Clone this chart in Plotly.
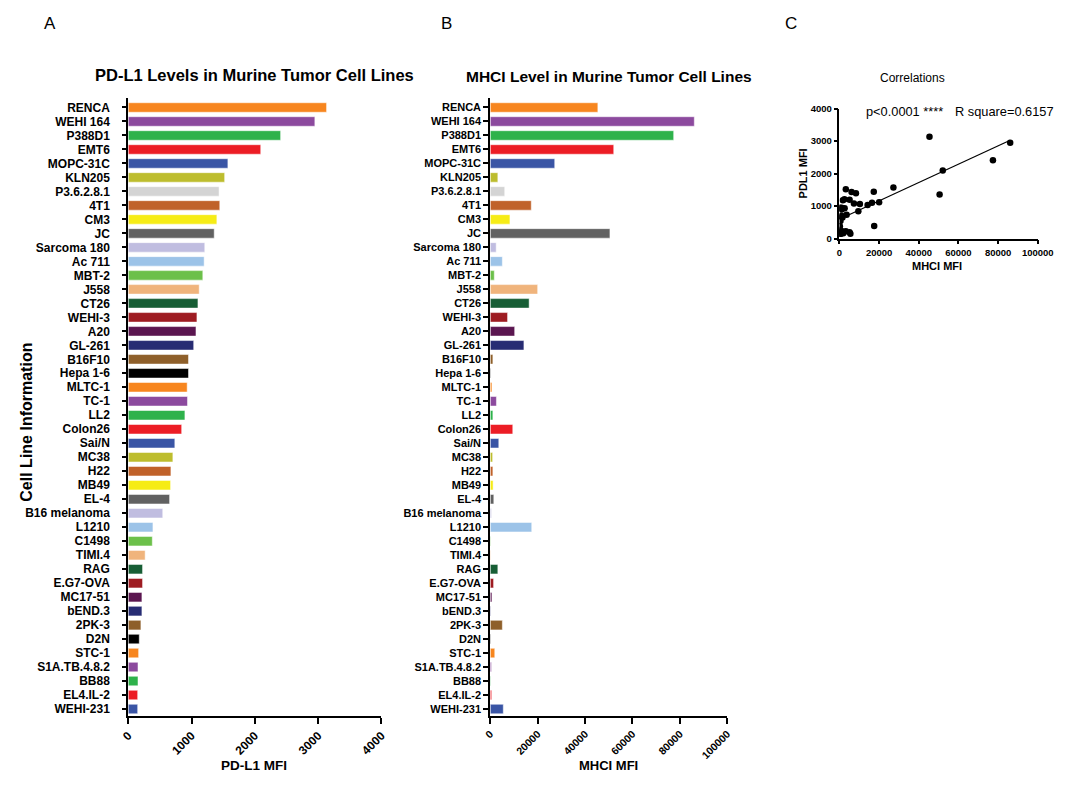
import numpy as np
import plotly.graph_objects as go

W, H = 1073, 785

cell_lines = ["RENCA", "WEHI 164", "P388D1", "EMT6", "MOPC-31C", "KLN205", "P3.6.2.8.1", "4T1", "CM3", "JC",
              "Sarcoma 180", "Ac 711", "MBT-2", "J558", "CT26", "WEHI-3", "A20", "GL-261", "B16F10", "Hepa 1-6",
              "MLTC-1", "TC-1", "LL2", "Colon26", "Sai/N", "MC38", "H22", "MB49", "EL-4", "B16 melanoma",
              "L1210", "C1498", "TIMI.4", "RAG", "E.G7-OVA", "MC17-51", "bEND.3", "2PK-3", "D2N", "STC-1",
              "S1A.TB.4.8.2", "BB88", "EL4.IL-2", "WEHI-231"]

pdl1_mfi = [3133, 2948, 2407, 2093, 1574, 1523, 1435, 1446, 1400, 1358,
            1209, 1199, 1178, 1121, 1101, 1085, 1070, 1034, 952, 952,
            931, 936, 895, 844, 736, 705, 674, 669, 653, 545,
            390, 380, 267, 226, 226, 216, 216, 200, 174, 164,
            154, 154, 149, 149]

mhci_mfi = [45400, 86100, 77400, 52100, 27200, 3200, 6100, 17300, 8300, 50500,
            2500, 5100, 1700, 20000, 16400, 7300, 10300, 14200, 1100, 200,
            700, 2600, 1100, 9500, 3600, 1000, 1100, 1200, 1500, 500,
            17500, 200, 200, 3200, 1400, 700, 200, 5100, 200, 1900,
            500, 200, 600, 5500]

pdl1_ticks = [0, 1000, 2000, 3000, 4000]
mhci_ticks = [0, 20000, 40000, 60000, 80000, 100000]
corr_y_ticks = [0, 1000, 2000, 3000, 4000]

palette = ["#F7861F", "#8C4A9E", "#2EB24B", "#EC1D25", "#3A55A5", "#BDBD2E", "#D4D4D4", "#C0622A",
           "#F6EC16", "#616161", "#C0BDE0", "#9CC3E8", "#6CC04A", "#F0B47C", "#175E35", "#9E1C22",
           "#5B1650", "#272C73", "#8E5F2A", "#000000"]
palette2 = ["#F7861F", "#8C4A9E", "#2EB24B", "#EC1D25", "#3A55A5", "#BDBD2E", "#C0622A",
            "#F6EC16", "#616161", "#C0BDE0", "#9CC3E8", "#6CC04A", "#F0B47C", "#175E35", "#9E1C22",
            "#5B1650", "#272C73", "#8E5F2A", "#000000"]
colors = palette + palette2 + palette2[:len(cell_lines) - len(palette) - len(palette2)]

FONT = "Arial, Liberation Sans, sans-serif"

def px_x(p):
    return p / W

def px_y(p):
    return 1 - p / H

fig = go.Figure()

fig.add_trace(go.Bar(x=pdl1_mfi, y=cell_lines, orientation="h", marker=dict(color=colors, line=dict(color="white", width=0.5)),
                     width=0.68, xaxis="x", yaxis="y", showlegend=False))
fig.add_trace(go.Bar(x=mhci_mfi, y=cell_lines, orientation="h", marker=dict(color=colors, line=dict(color="white", width=0.5)),
                     width=0.68, xaxis="x2", yaxis="y2", showlegend=False))

fig.add_trace(go.Scatter(x=mhci_mfi, y=pdl1_mfi, mode="markers", marker=dict(color="black", size=6.5),
                         xaxis="x3", yaxis="y3", showlegend=False))
slope, intercept = np.polyfit(mhci_mfi, pdl1_mfi, 1)
xl = np.array([min(mhci_mfi), max(mhci_mfi)])
fig.add_trace(go.Scatter(x=xl, y=slope * xl + intercept, mode="lines", line=dict(color="black", width=1.2),
                         xaxis="x3", yaxis="y3", showlegend=False))

ydom = [px_y(720), px_y(93)]
cat_range = [len(cell_lines) - 1 + 0.49, -0.70]

ax_common = dict(showgrid=False, zeroline=False, showline=True, linecolor="black", ticks="outside",
                 tickcolor="black")

fig.update_layout(
    width=W, height=H, margin=dict(l=0, r=0, t=0, b=0),
    paper_bgcolor="white", plot_bgcolor="white",
    font=dict(family=FONT, color="black"),
    xaxis=dict(domain=[px_x(123), px_x(382)], range=[0, 4000], tickvals=pdl1_ticks,
               ticktext=[str(v) for v in pdl1_ticks], tickangle=-45,
               linewidth=2, tickwidth=2, ticklen=6, anchor="y",
               tickfont=dict(size=12, weight="bold", family=FONT), **ax_common),
    yaxis=dict(domain=ydom, type="category", categoryorder="array", categoryarray=cell_lines,
               tickmode="array", tickvals=cell_lines, ticktext=cell_lines,
               range=cat_range, anchor="x", linewidth=2, tickwidth=1.5, ticklen=4, ticklabelstandoff=10,
               tickfont=dict(size=12, weight="bold", family=FONT), **ax_common),
    xaxis2=dict(domain=[px_x(493.3), px_x(735.7)], range=[0, 100000], tickvals=mhci_ticks,
                ticktext=[str(v) for v in mhci_ticks], tickangle=-45,
                linewidth=2, tickwidth=2, ticklen=6, anchor="y2",
                tickfont=dict(size=10.5, weight="bold", family=FONT), **ax_common),
    yaxis2=dict(domain=ydom, type="category", categoryorder="array", categoryarray=cell_lines,
                tickmode="array", tickvals=cell_lines, ticktext=cell_lines,
                range=cat_range, anchor="x2", linewidth=2, tickwidth=1.5, ticklen=5,
                tickfont=dict(size=11, weight="bold", family=FONT), **ax_common),
    xaxis3=dict(domain=[px_x(850.5), px_x(1053.3)], range=[0, 100000], tickvals=mhci_ticks,
                ticktext=[str(v) for v in mhci_ticks],
                linewidth=1.5, tickwidth=1.5, ticklen=4, anchor="y3",
                tickfont=dict(size=9.5, weight="bold", family=FONT), **ax_common),
    yaxis3=dict(domain=[px_y(236), px_y(104)], range=[0, 4000], tickvals=corr_y_ticks,
                ticktext=[str(v) for v in corr_y_ticks],
                linewidth=1.5, tickwidth=1.5, ticklen=4, anchor="x3",
                tickfont=dict(size=9.5, weight="bold", family=FONT), **ax_common),
)

def ann(text, x, y, size, bold=False, angle=0, xanchor="center"):
    fig.add_annotation(text=text, x=px_x(x), y=px_y(y), xref="paper", yref="paper", showarrow=False,
                       xanchor=xanchor, yanchor="middle", textangle=angle,
                       font=dict(size=size, family=FONT, color="black", weight="bold" if bold else "normal"))

ann("A", 43, 18, 17)
ann("B", 449, 18, 17)
ann("C", 801, 18, 17)
ann("PD-L1 Levels in Murine Tumor Cell Lines", 252, 70, 16.5, bold=True)
ann("MHCI Level in Murine Tumor Cell Lines", 614.5, 71, 15.5, bold=True)
ann("Cell Line Information", 18, 422, 16, bold=True, angle=-90)
ann("PD-L1 MFI", 252, 770, 13.5, bold=True)
ann("MHCI MFI", 614, 770, 13, bold=True)
ann("Correlations", 925, 73, 12)
ann("p<0.0001 ****", 876, 107, 12.8, xanchor="left")
ann("R square=0.6157", 966.5, 107, 12.8, xanchor="left")
ann("MHCI MFI", 950, 264, 11, bold=True)
ann("PDL1 MFI", 813, 170, 11, bold=True, angle=-90)

fig.write_html("out.html")
